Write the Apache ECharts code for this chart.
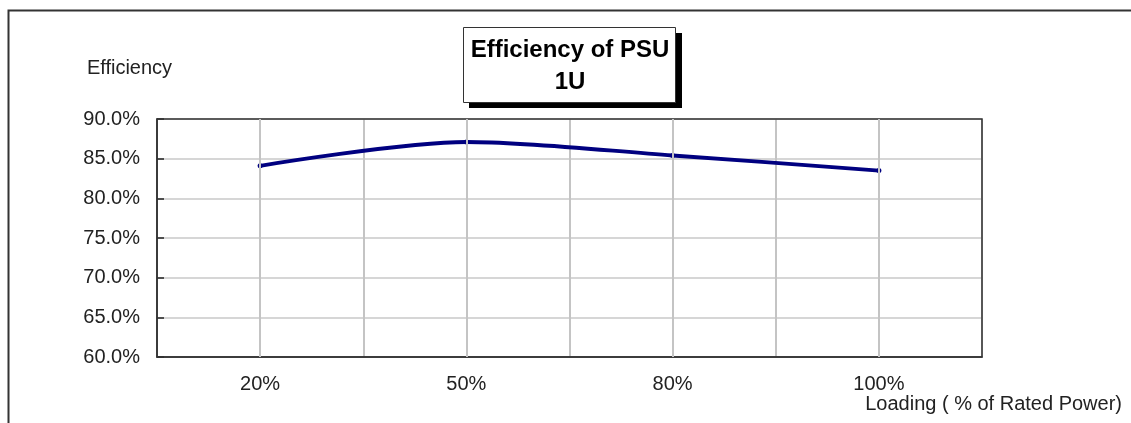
<!DOCTYPE html>
<html>
<head>
<meta charset="utf-8">
<script src="https://cdn.jsdelivr.net/npm/echarts@6/dist/echarts.min.js"></script>
<style>
  html, body { margin: 0; padding: 0; background: #fff; }
  #chart { width: 1131px; height: 423px; }
</style>
</head>
<body>
<div id="chart"></div>
<script>
const loading = ['20%', '50%', '80%', '100%'];
const efficiency = [84.1, 87.1, 85.4, 83.5];
const yTicks = { min: 60, max: 90, step: 5 };

const FONT = '"Liberation Sans", Arial, sans-serif';
const chart = echarts.init(document.getElementById('chart'));

const option = {
  animation: false,
  textStyle: { fontFamily: FONT },
  title: {
    text: 'Efficiency of PSU\n1U',
    left: 570,
    top: 34,
    textAlign: 'center',
    padding: 0,
    z: 10,
    textStyle: { fontFamily: FONT, fontSize: 24, fontWeight: 'bold', color: '#000', lineHeight: 32 }
  },
  graphic: [
    {
      type: 'polyline',
      shape: { points: [[8.5, 423], [8.5, 10.5], [1131, 10.5]] },
      style: { stroke: '#333', lineWidth: 2, fill: null },
      z: 0
    },
    // title box with drop shadow
    { type: 'rect', shape: { x: 469, y: 33, width: 213, height: 75 }, style: { fill: '#000' }, z: 1 },
    { type: 'rect', shape: { x: 463.5, y: 27.5, width: 212, height: 75 }, style: { fill: '#fff', stroke: '#333', lineWidth: 1 }, z: 2 }
  ],
  grid: {
    left: 157, right: 149, top: 119, bottom: 66,
    show: true, borderColor: '#333', borderWidth: 1.5, z: 3
  },
  xAxis: {
    type: 'category',
    data: loading,
    boundaryGap: true,
    name: 'Loading ( % of Rated Power)',
    nameLocation: 'end',
    nameGap: 140,
    nameTextStyle: { fontSize: 20, color: '#222', align: 'right', verticalAlign: 'top', padding: [37, 0, 0, 0] },
    axisLine: { lineStyle: { color: '#333', width: 1.5 } },
    axisTick: { inside: true, length: 6, lineStyle: { color: '#222', width: 1.5 } },
    axisLabel: { fontSize: 20, color: '#222', margin: 17 },
    splitLine: { show: true, lineStyle: { color: '#c4c4c4', width: 2 } }
  },
  yAxis: {
    type: 'value',
    min: yTicks.min,
    max: yTicks.max,
    interval: yTicks.step,
    name: 'Efficiency',
    nameLocation: 'end',
    nameGap: 41,
    nameTextStyle: { fontSize: 20, color: '#222', align: 'center', padding: [0, 55, 0, 0] },
    axisLine: { show: true, lineStyle: { color: '#333', width: 1.5 } },
    axisTick: { show: true, inside: true, length: 7, lineStyle: { color: '#222', width: 1.5 } },
    axisLabel: { fontSize: 20, color: '#222', margin: 17, formatter: v => v.toFixed(1) + '%' },
    splitLine: { show: true, lineStyle: { color: '#c8c8c8', width: 1.5 } }
  },
  series: [
    {
      type: 'line',
      data: efficiency,
      smooth: 0.3,
      symbol: 'circle',
      symbolSize: 5,
      itemStyle: { color: '#000080' },
      lineStyle: { color: '#000080', width: 3.8 },
      markLine: {
        silent: true,
        symbol: 'none',
        label: { show: false },
        lineStyle: { color: '#c4c4c4', width: 2, type: 'solid' },
        data: loading.map(c => ({ xAxis: c }))
      },
      z: 4
    }
  ]
};

chart.setOption(option);
</script>
</body>
</html>
